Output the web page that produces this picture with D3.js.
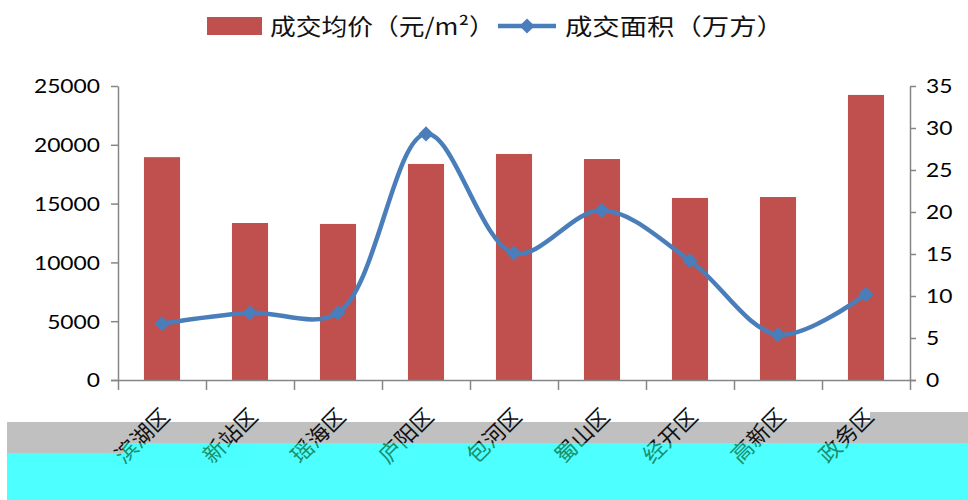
<!DOCTYPE html>
<html>
<head>
<meta charset="utf-8">
<script src="https://cdn.jsdelivr.net/npm/d3@7"></script>
<style>
  body { margin: 0; background: #fff; }
  text { font-family: Lato, "Noto Sans CJK SC", sans-serif; }
  .cn { font-family: "Noto Sans CJK SC", sans-serif; }
</style>
</head>
<body>
<div id="chart"></div>
<script>
const categories = ["滨湖区", "新站区", "瑶海区", "庐阳区", "包河区", "蜀山区", "经开区", "高新区", "政务区"];
const avgPrice = [18950, 13350, 13270, 18370, 19220, 18790, 15480, 15560, 24240];
const dealArea = [6.7, 8.0, 8.0, 29.3, 15.1, 20.2, 14.2, 5.4, 10.2];
const priceTicks = [0, 5000, 10000, 15000, 20000, 25000];
const areaTicks = [0, 5, 10, 15, 20, 25, 30, 35];
const seriesNames = ["成交均价（元/m²）", "成交面积（万方）"];

const width = 968, height = 500,
    margin = {left: 118, top: 86, right: 58, bottom: 120},
    contentWidth = width - margin.left - margin.right,
    contentHeight = height - margin.top - margin.bottom;

const barColor = "#c0504d", lineColor = "#4a7ebb", axisColor = "#868686";

const svg = d3.select("#chart").append("svg").attr("width", width).attr("height", height);
const maing = svg.append("g").attr("transform", `translate(${margin.left}, ${margin.top})`);

const xScale = d3.scaleBand().domain(categories).range([0, contentWidth]).paddingInner(0.59).paddingOuter(0.295);
const yLeft = d3.scaleLinear().domain([0, 25000]).range([contentHeight, 0]);
const yRight = d3.scaleLinear().domain([0, 35]).range([contentHeight, 0]);

// bars
maing.selectAll(".bar").data(avgPrice).enter().append("rect").attr("class", "bar")
    .attr("x", (d, i) => xScale(categories[i]))
    .attr("y", d => yLeft(d))
    .attr("width", xScale.bandwidth())
    .attr("height", d => contentHeight - yLeft(d))
    .attr("fill", barColor);

// axes
function styleAxis(g, dx) {
    g.select(".domain").attr("stroke", axisColor).attr("stroke-width", 1.5);
    g.selectAll(".tick line").attr("stroke", axisColor).attr("stroke-width", 1.5);
    g.selectAll(".tick text").attr("fill", "#000").style("font-size", "19px")
        .attr("x", dx).attr("dy", "0.36em").attr("transform", "scale(1.2,1)");
}
const leftAxis = maing.append("g")
    .call(d3.axisLeft(yLeft).tickValues(priceTicks).tickSize(7).tickSizeOuter(0).tickFormat(d3.format("d")));
styleAxis(leftAxis, -18 / 1.2);

const rightAxis = maing.append("g").attr("transform", `translate(${contentWidth},0)`)
    .call(d3.axisRight(yRight).tickValues(areaTicks).tickSize(6).tickSizeOuter(0));
styleAxis(rightAxis, 16 / 1.2);

const bottomAxis = maing.append("g").attr("transform", `translate(0,${contentHeight})`)
    .call(d3.axisBottom(d3.scaleLinear().domain([0, categories.length]).range([0, contentWidth]))
        .ticks(categories.length).tickSize(10).tickSizeOuter(0).tickFormat(""));
bottomAxis.select(".domain").attr("stroke", axisColor).attr("stroke-width", 1.5)
    .attr("d", `M-7,0.5H${contentWidth + 6}`);
bottomAxis.selectAll(".tick line").attr("stroke", axisColor).attr("stroke-width", 1.5);

// smoothed line
const cx = i => xScale(categories[i]) + xScale.bandwidth() / 2;
const line = d3.line().x((d, i) => cx(i)).y(d => yRight(d)).curve(d3.curveCatmullRom.alpha(0.5));
maing.append("path").datum(dealArea).attr("d", line)
    .attr("fill", "none").attr("stroke", lineColor).attr("stroke-width", 4.5);
const diamond = d3.symbol().type(d3.symbolSquare).size(115);
maing.selectAll(".pt").data(dealArea).enter().append("path").attr("class", "pt")
    .attr("d", diamond)
    .attr("transform", (d, i) => `translate(${cx(i)},${yRight(d)}) rotate(45)`)
    .attr("fill", lineColor);

// bottom band artefacts + category labels
const defs = svg.append("defs");
const cyanShape = `M7,453H123V443H968V500H7Z`;
defs.append("clipPath").attr("id", "cyanClip").append("path").attr("d", cyanShape);
defs.append("clipPath").attr("id", "topClip").append("path").attr("d", `M0,0H968V443H123V453H0Z`);

svg.append("path").attr("d", "M7,422H870V412H968V460H7Z").attr("fill", "#c0c0c0");

function drawLabels(g, color) {
    g.selectAll("text").data(categories).enter().append("text").attr("class", "cn")
        .attr("transform", (d, i) => `translate(${margin.left + cx(i) + 9},${418}) rotate(-45)`)
        .attr("text-anchor", "end")
        .style("font-size", "22px")
        .attr("fill", color)
        .text(d => d);
}
drawLabels(svg.append("g").attr("clip-path", "url(#topClip)"), "#111");
svg.append("path").attr("d", cyanShape).attr("fill", "#4dffff");
drawLabels(svg.append("g").attr("clip-path", "url(#cyanClip)").attr("opacity", 0.75), "#0b6b3a");

// legend
const legend = svg.append("g");
legend.append("rect").attr("x", 207).attr("y", 17).attr("width", 55).attr("height", 18).attr("fill", barColor);
legend.append("g").attr("transform", "translate(270,35) scale(1.12,1)")
    .append("text").attr("class", "cn").style("font-size", "23px").attr("fill", "#111").text(seriesNames[0]);
legend.append("line").attr("x1", 498).attr("x2", 556).attr("y1", 26).attr("y2", 26)
    .attr("stroke", lineColor).attr("stroke-width", 4.5);
legend.append("path").attr("d", diamond).attr("transform", "translate(527,26) rotate(45)").attr("fill", lineColor);
legend.append("g").attr("transform", "translate(565,35) scale(1.19,1)")
    .append("text").attr("class", "cn").style("font-size", "23px").attr("fill", "#111").text(seriesNames[1]);
</script>
</body>
</html>
